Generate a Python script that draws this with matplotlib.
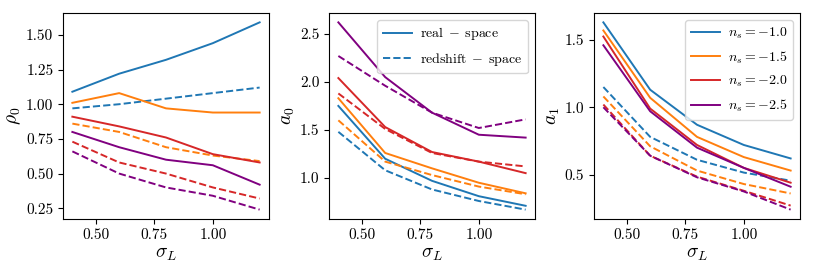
import matplotlib
matplotlib.use("Agg")
import matplotlib.pyplot as plt
from matplotlib.lines import Line2D

plt.rcParams['font.family'] = ['cmr10', 'DejaVu Serif']
plt.rcParams['mathtext.fontset'] = 'cm'
plt.rcParams['axes.formatter.use_mathtext'] = True

sigma_L = [0.4, 0.6, 0.8, 1.0, 1.2]
n_s_labels = ["-1.0", "-1.5", "-2.0", "-2.5"]
colors = ["#1f77b4", "#ff7f0e", "#d62728", "purple"]

# rho_0
rho0_real = [
    [1.09, 1.22, 1.32, 1.44, 1.59],
    [1.01, 1.08, 0.97, 0.94, 0.94],
    [0.91, 0.84, 0.76, 0.64, 0.58],
    [0.80, 0.69, 0.60, 0.56, 0.42],
]
rho0_red = [
    [0.97, 1.00, 1.04, 1.08, 1.12],
    [0.86, 0.80, 0.69, 0.63, 0.59],
    [0.73, 0.58, 0.50, 0.40, 0.32],
    [0.66, 0.50, 0.40, 0.34, 0.24],
]
# a_0
a0_real = [
    [1.75, 1.20, 0.97, 0.81, 0.71],
    [1.83, 1.26, 1.10, 0.95, 0.84],
    [2.04, 1.53, 1.27, 1.17, 1.05],
    [2.62, 2.05, 1.68, 1.45, 1.42],
]
a0_red = [
    [1.48, 1.08, 0.88, 0.76, 0.67],
    [1.60, 1.17, 1.03, 0.91, 0.83],
    [1.88, 1.51, 1.26, 1.17, 1.12],
    [2.27, 1.96, 1.68, 1.52, 1.61],
]
# a_1
a1_real = [
    [1.63, 1.13, 0.87, 0.72, 0.62],
    [1.57, 1.07, 0.78, 0.63, 0.53],
    [1.525, 0.99, 0.72, 0.55, 0.44],
    [1.46, 0.97, 0.70, 0.55, 0.41],
]
a1_red = [
    [1.15, 0.78, 0.61, 0.515, 0.455],
    [1.08, 0.71, 0.53, 0.43, 0.36],
    [1.02, 0.64, 0.485, 0.38, 0.27],
    [1.00, 0.64, 0.48, 0.375, 0.24],
]

fig = plt.figure(figsize=(8.14, 2.71), dpi=100)
W, H = 814, 271
lefts = [63, 329, 594]
aw = 206
top, bot = 13, 219
axes = [fig.add_axes([l / W, 1 - bot / H, aw / W, (bot - top) / H]) for l in lefts]

datasets = [(rho0_real, rho0_red, r'$\rho_0$'),
            (a0_real, a0_red, r'$a_0$'),
            (a1_real, a1_red, r'$a_1$')]

for ax, (real, red, lab) in zip(axes, datasets):
    for i, c in enumerate(colors):
        ax.plot(sigma_L, real[i], color=c, lw=1.4, ls='-')
        ax.plot(sigma_L, red[i], color=c, lw=1.4, ls='--')
    ax.set_xticks([0.5, 0.75, 1.0])
    ax.set_xticklabels(["0.50", "0.75", "1.00"])
    ax.set_xlabel(r'$\sigma_L$', fontsize=14, labelpad=2)
    ax.set_ylabel(lab, fontsize=14, labelpad=2)
    ax.tick_params(labelsize=11)

axes[0].set_yticks([0.25, 0.5, 0.75, 1.0, 1.25, 1.5])
axes[0].set_yticklabels(["0.25", "0.50", "0.75", "1.00", "1.25", "1.50"])
axes[1].set_yticks([1.0, 1.5, 2.0, 2.5])
axes[1].set_yticklabels(["1.0", "1.5", "2.0", "2.5"])
axes[2].set_yticks([0.5, 1.0, 1.5])
axes[2].set_yticklabels(["0.5", "1.0", "1.5"])

leg_kw = dict(loc='upper right', fontsize=10, labelspacing=0.6,
              handlelength=2.1, handletextpad=0.6)
h2 = [Line2D([], [], color=colors[0], ls='-', lw=1.4),
      Line2D([], [], color=colors[0], ls='--', lw=1.4)]
axes[1].legend(h2, [r'$\mathrm{real}\;-\;\mathrm{space}$',
                    r'$\mathrm{redshift}\;-\;\mathrm{space}$'], **leg_kw)
h3 = [Line2D([], [], color=c, ls='-', lw=1.4) for c in colors]
axes[2].legend(h3, [r'$n_s = %s$' % s for s in n_s_labels], **leg_kw)

fig.savefig("out.png", dpi=100)
